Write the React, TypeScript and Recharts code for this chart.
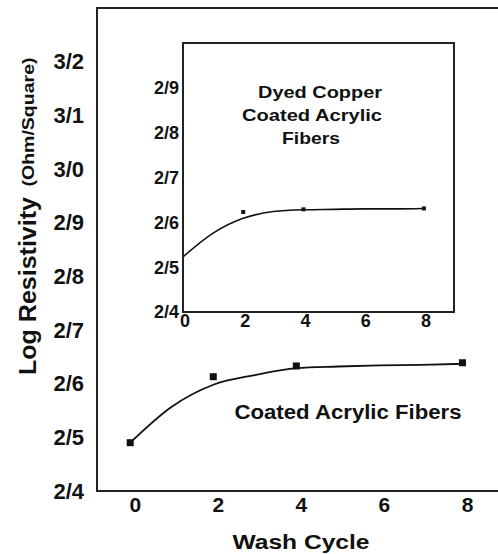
import React from "react";
import { ComposedChart, Line, Scatter, XAxis, YAxis, ReferenceArea, Customized } from "recharts";

// main chart: measured points and the fitted curve
const mainPoints = [
  { x: 0, y: 2.49 },
  { x: 2, y: 2.613 },
  { x: 4, y: 2.633 },
  { x: 8, y: 2.639 },
];
const mainCurve = [
  { x: 0, y: 2.49 },
  { x: 1, y: 2.557 },
  { x: 2, y: 2.598 },
  { x: 3, y: 2.616 },
  { x: 4, y: 2.629 },
  { x: 5, y: 2.632 },
  { x: 6, y: 2.634 },
  { x: 7, y: 2.635 },
  { x: 8, y: 2.637 },
];
const mainYTicks = [2.4, 2.5, 2.6, 2.7, 2.8, 2.9, 3.0, 3.1, 3.2];
const mainXTicks = [0, 2, 4, 6, 8];

// inset: dyed copper coated fibers
const insetPoints = [
  { x: 2, y: 2.623 },
  { x: 4, y: 2.629 },
  { x: 8, y: 2.631 },
];
const insetCurve = [
  { x: 0, y: 2.523 },
  { x: 1, y: 2.576 },
  { x: 2, y: 2.609 },
  { x: 3, y: 2.624 },
  { x: 4, y: 2.628 },
  { x: 5, y: 2.629 },
  { x: 6, y: 2.63 },
  { x: 7, y: 2.63 },
  { x: 8, y: 2.631 },
];
const insetYTicks = [2.4, 2.5, 2.6, 2.7, 2.8, 2.9];
const insetXTicks = [0, 2, 4, 6, 8];
const insetTitle = ["Dyed Copper", "Coated Acrylic", "Fibers"];

const FONT = "'Liberation Sans', Arial, sans-serif";
const INK = "#111";
const FRAME = "#222";

const fmt = (v: number) => v.toFixed(1).replace(".", "/");

const square = (size: number) => (p: any) => (
  <rect x={p.cx - size / 2} y={p.cy - size / 2} width={size} height={size} fill={INK} />
);

// the scanned original uses a slightly wide face, so texts get stretched to the measured length
function Txt({ x, y, size, len, rotate, children }: any) {
  return (
    <text
      x={x}
      y={y}
      transform={rotate ? `rotate(-90, ${x}, ${y})` : undefined}
      textAnchor="middle"
      dominantBaseline="central"
      fontFamily={FONT}
      fontWeight="bold"
      fontSize={size}
      fill={INK}
      textLength={len}
      lengthAdjust="spacingAndGlyphs"
    >
      {children}
    </text>
  );
}

function MainChart() {
  return (
    <ComposedChart width={520} height={554} margin={{ top: 8, right: 16, bottom: 0, left: 0 }}>
      <XAxis
        dataKey="x"
        type="number"
        domain={[-0.8, 9]}
        ticks={mainXTicks}
        allowDataOverflow
        height={63}
        tickSize={0}
        tickMargin={6}
        tick={{ fill: INK, fontSize: 21, fontWeight: "bold", fontFamily: FONT, dx: 5 }}
        axisLine={{ stroke: FRAME, strokeWidth: 2 }}
      />
      <YAxis
        type="number"
        domain={[2.4, 3.3]}
        ticks={mainYTicks}
        tickFormatter={fmt}
        width={97}
        tickSize={0}
        tickMargin={13}
        tick={{ fill: INK, fontSize: 22, fontWeight: "bold", fontFamily: FONT }}
        axisLine={{ stroke: FRAME, strokeWidth: 2 }}
      />
      <ReferenceArea
        x1={-0.8}
        x2={9}
        y1={2.4}
        y2={3.3}
        fill="none"
        stroke={FRAME}
        strokeWidth={2}
        strokeOpacity={1}
      />
      <Line
        data={mainCurve}
        dataKey="y"
        type="monotone"
        stroke={INK}
        strokeWidth={1.8}
        dot={false}
        isAnimationActive={false}
      />
      <Scatter data={mainPoints} dataKey="y" shape={square(7)} isAnimationActive={false} />
      <Customized
        component={() => (
          <g>
            <Txt x={348} y={412} size={20} len={227}>
              Coated Acrylic Fibers
            </Txt>
            <Txt x={301} y={541} size={21} len={137}>
              Wash Cycle
            </Txt>
            <Txt x={28} y={286} size={23} len={178} rotate>
              Log Resistivity
            </Txt>
            <Txt x={28} y={122} size={17} len={129} rotate>
              (Ohm/Square)
            </Txt>
          </g>
        )}
      />
    </ComposedChart>
  );
}

function InsetChart() {
  return (
    <ComposedChart width={340} height={310} margin={{ top: 13, right: 16, bottom: 0, left: 0 }}>
      <XAxis
        dataKey="x"
        type="number"
        domain={[0, 9]}
        ticks={insetXTicks}
        height={28}
        tickSize={0}
        tickMargin={2}
        tick={{ fill: INK, fontSize: 18, fontWeight: "bold", fontFamily: FONT, dx: 2 }}
        axisLine={{ stroke: FRAME, strokeWidth: 2 }}
      />
      <YAxis
        type="number"
        domain={[2.4, 3.0]}
        ticks={insetYTicks}
        tickFormatter={fmt}
        width={53}
        tickSize={0}
        tickMargin={4}
        tick={{ fill: INK, fontSize: 18, fontWeight: "bold", fontFamily: FONT }}
        axisLine={{ stroke: FRAME, strokeWidth: 2 }}
      />
      <ReferenceArea
        x1={0}
        x2={9}
        y1={2.4}
        y2={3.0}
        fill="none"
        stroke={FRAME}
        strokeWidth={2}
        strokeOpacity={1}
      />
      <Line
        data={insetCurve}
        dataKey="y"
        type="monotone"
        stroke={INK}
        strokeWidth={1.6}
        dot={false}
        isAnimationActive={false}
      />
      <Scatter data={insetPoints} dataKey="y" shape={square(4)} isAnimationActive={false} />
      <Customized
        component={() => (
          <g>
            <Txt x={190} y={62} size={17} len={124}>
              {insetTitle[0]}
            </Txt>
            <Txt x={182} y={85} size={17} len={140}>
              {insetTitle[1]}
            </Txt>
            <Txt x={181} y={108} size={17} len={58}>
              {insetTitle[2]}
            </Txt>
          </g>
        )}
      />
    </ComposedChart>
  );
}

export default function App() {
  return (
    <div
      style={{
        position: "fixed",
        left: 0,
        top: 0,
        width: 498,
        height: 554,
        overflow: "hidden",
        background: "#fff",
      }}
    >
      <div style={{ position: "absolute", left: 0, top: 0 }}>
        <MainChart />
      </div>
      <div style={{ position: "absolute", left: 130, top: 30 }}>
        <InsetChart />
      </div>
    </div>
  );
}
